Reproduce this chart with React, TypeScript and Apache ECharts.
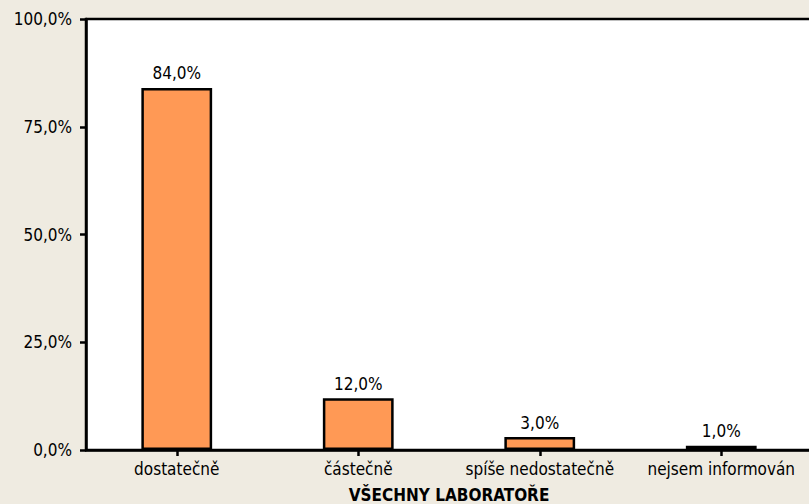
import React, { useEffect, useRef } from "react";
import * as echarts from "echarts";

const categories = ["dostatečně", "částečně", "spíše nedostatečně", "nejsem informován"];
const values = [84.0, 12.0, 3.0, 1.0];
const yTicks = [0, 25, 50, 75, 100];
const axisTitle = "VŠECHNY LABORATOŘE";

const FONT = "'DejaVu Sans Condensed', 'DejaVu Sans', sans-serif";
const fmt = (v: number) => v.toFixed(1).replace(".", ",") + "%";

export default function App() {
  const ref = useRef<HTMLDivElement>(null);
  useEffect(() => {
    if (!ref.current) return;
    const chart = echarts.init(ref.current, null, { renderer: "svg" });
    chart.setOption({
      animation: false,
      backgroundColor: "#EFEBE1",
      textStyle: { fontFamily: FONT },
      grid: {
        left: 86,
        top: 19,
        right: -3,
        bottom: 54,
        containLabel: false,
        outerBoundsMode: "none",
        show: true,
        backgroundColor: "#ffffff",
        borderColor: "#000000",
        borderWidth: 2.5,
      },
      xAxis: {
        type: "category",
        data: categories,
        name: axisTitle,
        nameLocation: "middle",
        nameGap: 36,
        nameTextStyle: { fontFamily: FONT, fontSize: 17, fontWeight: "bold", color: "#000" },
        axisLine: { show: true, lineStyle: { color: "#000", width: 2.5 } },
        axisTick: { show: true, alignWithLabel: true, length: 6, lineStyle: { color: "#000", width: 2.5 } },
        axisLabel: { fontFamily: FONT, fontSize: 17, color: "#000", margin: 10, interval: 0 },
        splitLine: { show: false },
      },
      yAxis: {
        type: "value",
        min: yTicks[0],
        max: yTicks[yTicks.length - 1],
        interval: 25,
        axisLine: { show: true, lineStyle: { color: "#000", width: 2.5 } },
        axisTick: { show: true, length: 6, lineStyle: { color: "#000", width: 2.5 } },
        axisLabel: { fontFamily: FONT, fontSize: 17, color: "#000", margin: 14, formatter: (v: number) => fmt(v) },
        splitLine: { show: false },
      },
      series: [
        {
          type: "bar",
          data: values,
          barWidth: "39%",
          itemStyle: { color: "#FF9955", borderColor: "#000", borderWidth: 2.5 },
          label: {
            show: true,
            position: "top",
            distance: 6,
            fontFamily: FONT,
            fontSize: 17,
            color: "#000",
            formatter: (p: any) => fmt(p.value),
          },
        },
      ],
    });
    return () => chart.dispose();
  }, []);
  return <div ref={ref} style={{ position: "fixed", left: 0, top: 0, width: 809, height: 504 }} />;
}
